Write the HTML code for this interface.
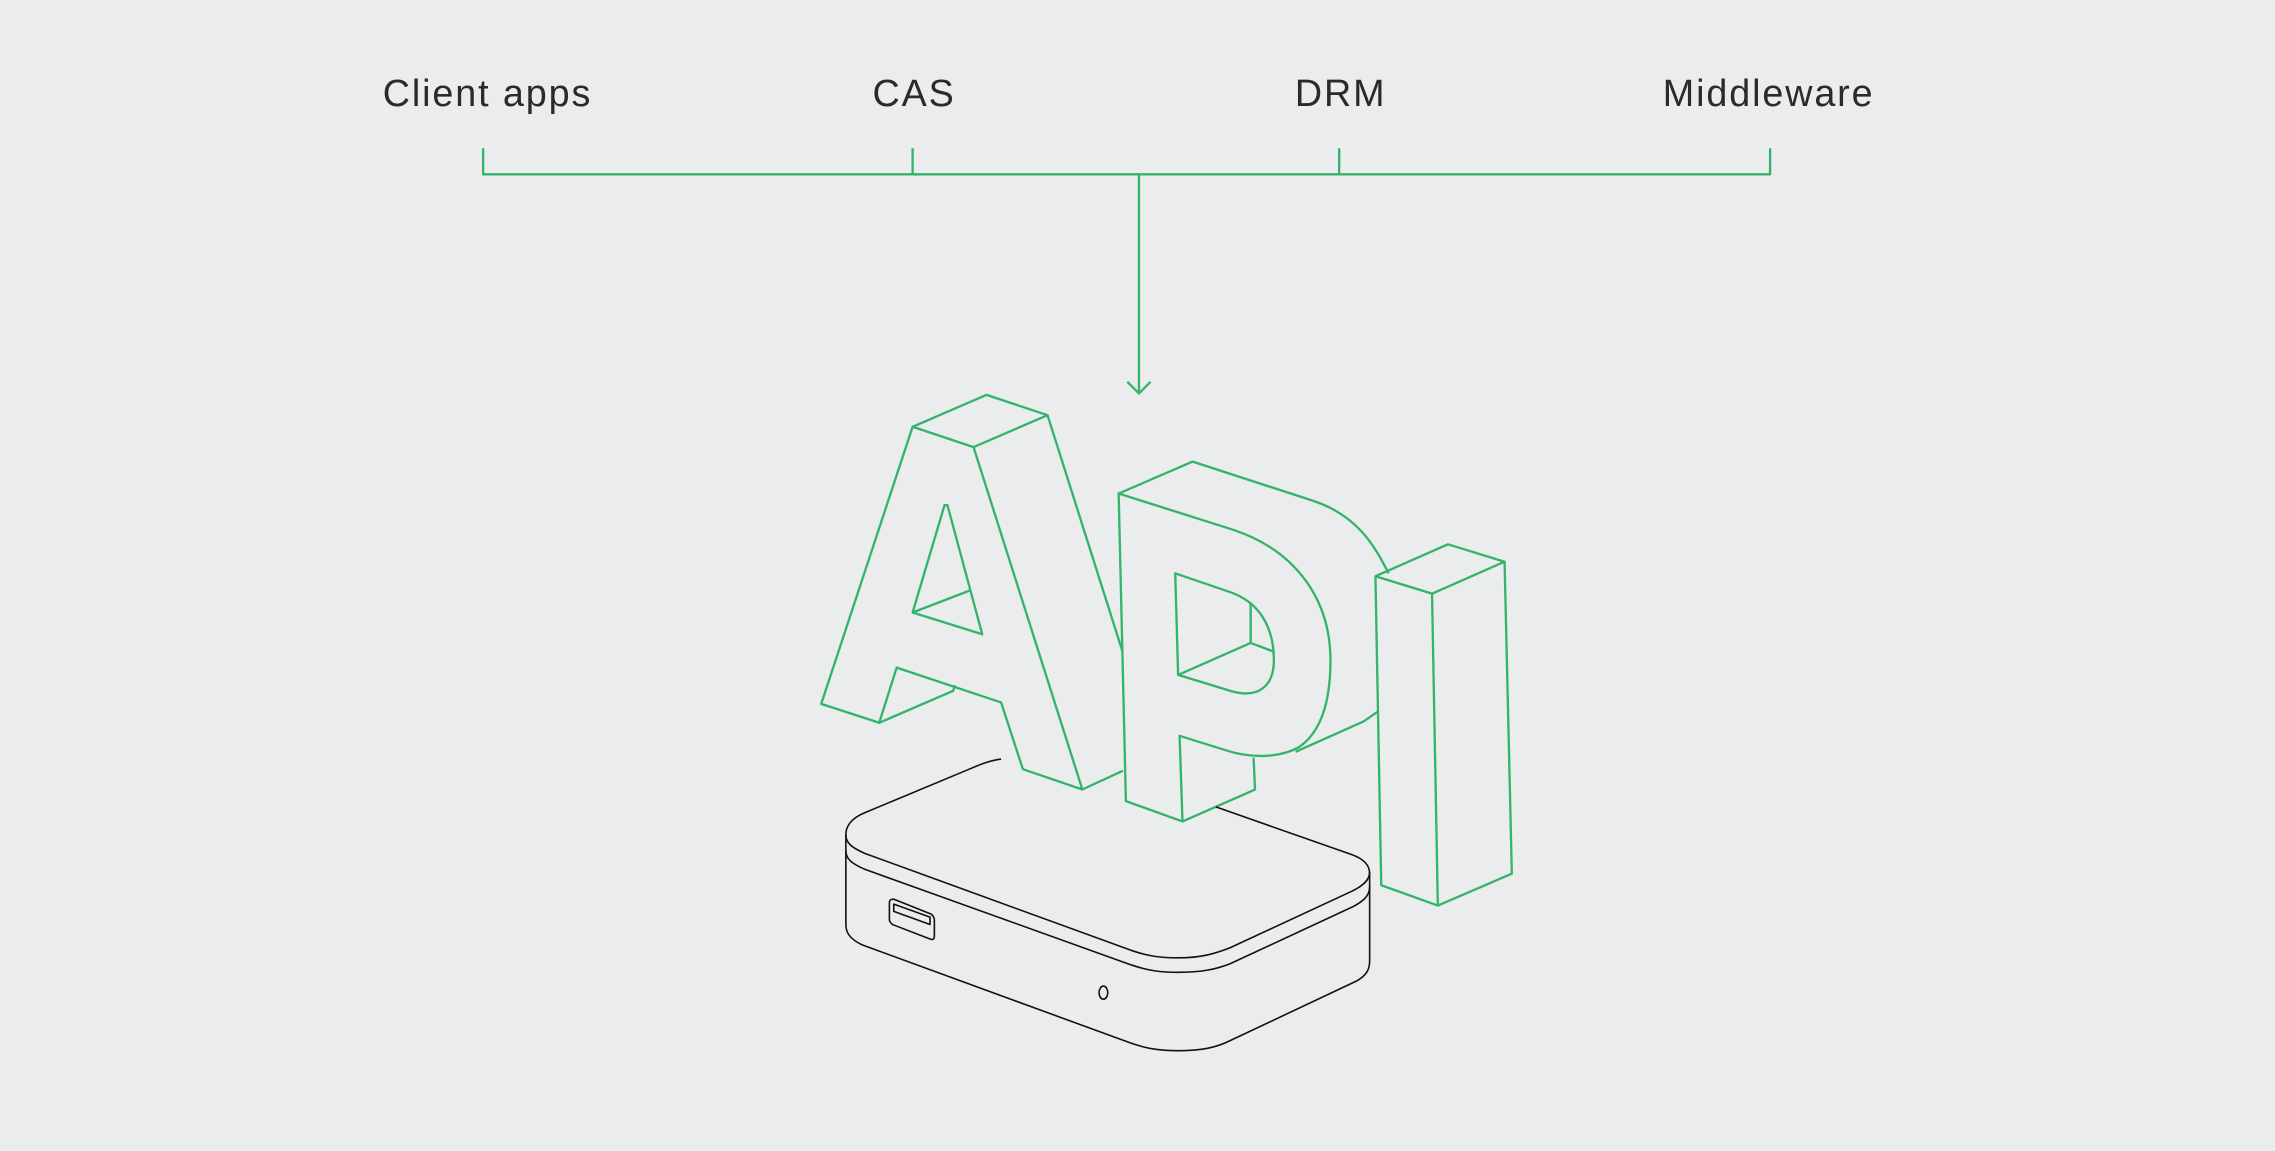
<!DOCTYPE html>
<html><head><meta charset="utf-8"><style>
html,body{margin:0;padding:0;background:#ebecee;}
svg{display:block}
</style></head><body>
<svg width="2275" height="1151" viewBox="0 0 1568 793" xmlns="http://www.w3.org/2000/svg">
<rect width="1568" height="793" fill="#ebecee"/>
<g font-family="Liberation Sans, sans-serif" font-size="26" fill="#2a2a2a" text-anchor="middle" letter-spacing="1.3">
<text x="336" y="73">Client apps</text>
<text x="630" y="73">CAS</text>
<text x="924" y="73">DRM</text>
<text x="1219" y="73">Middleware</text>
</g>
<g fill="none" stroke="#34b36a" stroke-width="1.6" stroke-linejoin="round">
<path d="M333 102V120H1220V102M629 102V120M923 102V120M785 120V271M777 263L785 271L793 263"/>
<!-- A -->
<path d="M629 294L671 308L746 544L705 530L690 484L618 460L606 498L566 485Z"/>
<path d="M629 294L680 272L722 286L671 308M722 286L774 450M746 544L774 531"/>
<path d="M651 348L629 422L677 437L653 348Z M629 422L668 407"/>
<path d="M606 498L657 476L658 472"/>
<!-- P -->
<path d="M771 340L850 365C895 380 917 415 917 455C917 485 910 505 895 515C880 523 860 522 845 517L813 507L815 566L776 552Z" fill="#ebecee"/>
<path d="M771 340L822 318L905 345C935 355 947 375 957 395"/>
<path d="M893 518L940 497L950 490"/>
<path d="M810 395L848 408C868 415 878 432 878 455C878 472 868 482 848 476L812 465Z"/>
<path d="M812 465L862 443L878 449M862 443L862 415"/>
<path d="M815 566L865 544L864 522"/>
<!-- I -->
<path d="M948 397L987 409L991 624L952 610Z" fill="#ebecee"/>
<path d="M948 397L998 375L1037 387L987 409M1037 387L1042 602L991 624"/>
</g>
<g fill="none" stroke="#111" stroke-width="1.1" stroke-linejoin="round">
<path d="M690 523C682 524 675 527 668 530L596 560C586 564 583 570 583 575V637C583 643 586 647 594 651L780 719C792 723 800 724 812 724C828 724 838 722 848 717L935 676C942 672 944 668 944 662V602C944 596 940 592 932 589L838 556"/>
<path d="M583 575C583 581 587 584 596 588L780 655C792 659 800 660 812 660C828 660 838 657 848 653L932 614C940 610 944 606 944 601"/>
<path d="M583 586C583 592 587 595 596 599L780 665C792 669 800 670 812 670C828 670 838 668 848 664L932 625C940 621 944 617 944 611"/>
<path d="M613 622C613 620 615 619 617 620L642 630C643 631 644 632 644 634V645C644 647 643 648 641 647L615 637C614 636 613 635 613 634Z"/>
<path d="M616 623L641 632L641 637L616 628Z"/>
<ellipse cx="760.5" cy="684" rx="3" ry="4.5"/>
</g>
</svg>
</body></html>
